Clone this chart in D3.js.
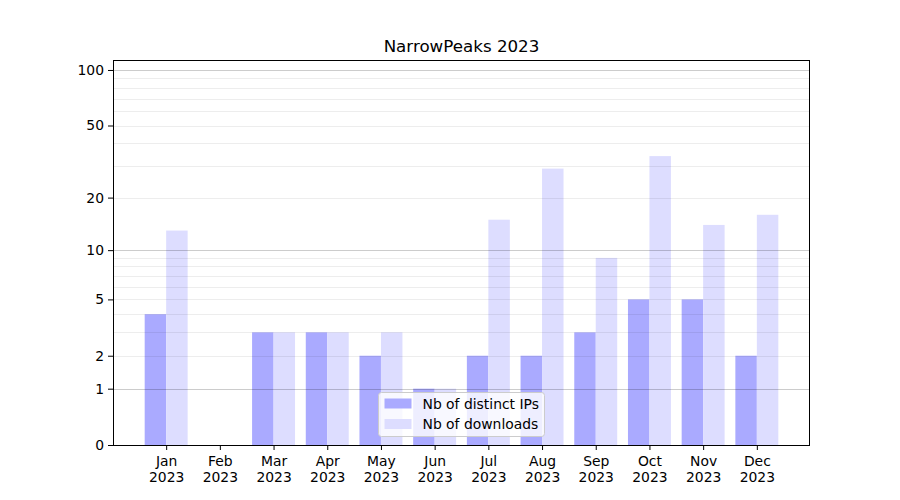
<!DOCTYPE html>
<html><head><meta charset="utf-8">
<script src="https://cdn.jsdelivr.net/npm/d3@7"></script>
<style>body{margin:0;background:#fff}svg{font-family:"DejaVu Sans",sans-serif}</style>
</head><body>
<svg id="c" width="900" height="500"></svg>
<script>
const months = ["Jan","Feb","Mar","Apr","May","Jun","Jul","Aug","Sep","Oct","Nov","Dec"];
const yearLabel = "2023";
const distinctIPs = [4,0,3,3,2,1,2,2,3,5,5,2];
const downloads = [13,0,3,3,3,1,15,29,9,34,14,16];
const yTicks = [0,1,2,5,10,20,50,100];
const majorGrid = [1,10,100];
const minorGrid = [2,3,4,5,6,7,8,9,20,30,40,50,60,70,80,90];
const seriesNames = ["Nb of distinct IPs","Nb of downloads"];
const colors = ["#aaaaff","#ddddff"];

const svg = d3.select("#c");
const L=113,R=810,T=60,B=445;
const FS = "13.9px";
const x = d3.scaleLinear().domain([-0.99,11.99]).range([L,R]);
const y = d3.scaleSymlog().constant(1).domain([0,113.2]).range([B,T]);
const bw = 0.4;

// bars
const g = svg.append("g");
g.selectAll("rect.ip").data(distinctIPs).join("rect")
  .attr("x",(d,i)=>x(i-bw)).attr("width",(d,i)=>x(i)-x(i-bw))
  .attr("y",d=>y(d)).attr("height",d=>y(0)-y(d)).attr("fill",colors[0]);
g.selectAll("rect.dl").data(downloads).join("rect")
  .attr("x",(d,i)=>x(i)).attr("width",(d,i)=>x(i+bw)-x(i))
  .attr("y",d=>y(d)).attr("height",d=>y(0)-y(d)).attr("fill",colors[1]);

// grid on top
svg.append("g").selectAll("line").data(minorGrid).join("line")
  .attr("x1",L).attr("x2",R).attr("y1",d=>Math.round(y(d))+0.5).attr("y2",d=>Math.round(y(d))+0.5)
  .attr("stroke","#000").attr("stroke-opacity",0.07).attr("stroke-width",1);
svg.append("g").selectAll("line").data(majorGrid).join("line")
  .attr("x1",L).attr("x2",R).attr("y1",d=>Math.round(y(d))+0.5).attr("y2",d=>Math.round(y(d))+0.5)
  .attr("stroke","#000").attr("stroke-opacity",0.2).attr("stroke-width",1);

// axes
const yAxis = d3.axisLeft(y).tickValues(yTicks).tickFormat(d3.format("d")).tickSizeOuter(0).tickSize(5).tickPadding(4);
const ya = svg.append("g").attr("transform",`translate(${L},0)`).call(yAxis)
  .attr("font-family","DejaVu Sans").attr("font-size",FS);
ya.select(".domain").remove();
ya.selectAll("text").attr("fill","#000");

const xAxis = d3.axisBottom(x).tickValues(d3.range(months.length)).tickFormat(()=> "").tickSize(5).tickSizeOuter(0);
const xa = svg.append("g").attr("transform",`translate(0,${B})`).call(xAxis)
  .attr("font-family","DejaVu Sans").attr("font-size",FS);
xa.select(".domain").remove();
xa.selectAll(".tick").each(function(d,i){
  const t = d3.select(this).append("text").attr("fill","#000").attr("text-anchor","middle");
  t.append("tspan").attr("x",0).attr("y",21).text(months[i]);
  t.append("tspan").attr("x",0).attr("y",37).text(yearLabel);
});

// frame
svg.append("rect").attr("x",L+0.5).attr("y",T+0.5).attr("width",R-L-1).attr("height",B-T).attr("fill","none").attr("stroke","#000").attr("stroke-width",1);

// title
svg.append("text").attr("x",(L+R)/2).attr("y",52).attr("text-anchor","middle").attr("font-size","16.7px").attr("fill","#000").text("NarrowPeaks 2023");

// legend
const lg = svg.append("g").attr("transform","translate(378.5,392.5)").attr("font-size",FS);
lg.append("rect").attr("width",166).attr("height",44).attr("rx",3).attr("fill","#fff").attr("fill-opacity",0.8).attr("stroke","#cccccc");
seriesNames.forEach((n,i)=>{
  lg.append("rect").attr("x",6).attr("y",6+i*20.5).attr("width",27).attr("height",10).attr("fill",colors[i]);
  lg.append("text").attr("x",44).attr("y",16+i*20.5).attr("fill","#000").text(n);
});
</script>
</body></html>
